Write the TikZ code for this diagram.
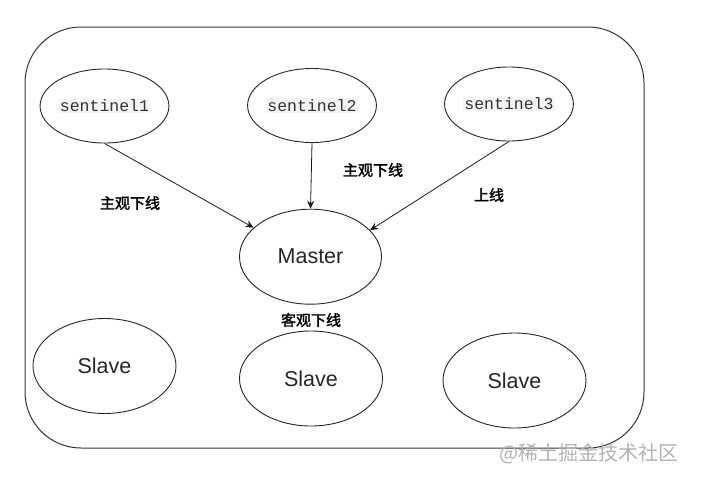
\documentclass[tikz,border=0pt]{standalone}
\usepackage{fontspec}
\setmainfont{Liberation Sans}
\newfontfamily\codefont{Liberation Mono}
\newfontfamily\cjk[AutoFakeBold=2]{Noto Sans CJK SC}
\usetikzlibrary{shapes.geometric,arrows.meta}
\definecolor{codegray}{HTML}{333333}
\definecolor{codebg}{HTML}{F4F4F4}
\newcommand{\sname}[1]{{\setlength{\fboxsep}{1pt}\colorbox{codebg}{\codefont\fontsize{16.5}{18}\selectfont\color{codegray}#1}}}
\newcommand{\state}[1]{\cjk\bfseries\fontsize{15}{17}\selectfont #1}

\begin{document}
\begin{tikzpicture}[x=1pt,y=-1pt,
  sentinel/.style={ellipse,draw=black!85,line width=0.9pt,minimum width=109pt,minimum height=74pt,inner sep=0pt},
  redis/.style={ellipse,draw=black!85,line width=0.9pt,minimum width=143pt,minimum height=95pt,inner sep=0pt,
    font=\fontsize{21.5}{24}\selectfont,text=black!85},
  vote/.style={-{Stealth[length=8pt,width=7pt]},line width=0.8pt,black!90}]
\useasboundingbox (0,0) rectangle (704,477);
% the frame round the whole sentinel group
\draw[black!80,line width=1pt,rounded corners=56pt] (25,27) rectangle (644,448);
% three sentinels
\node[sentinel] (s1) at (104.5,106) {\sname{sentinel1}};
\node[sentinel] (s2) at (312,105.5) {\sname{sentinel2}};
\node[sentinel] (s3) at (509,104) {\sname{sentinel3}};
% master and its slaves
\node[redis,minimum width=142pt] (master) at (310.5,256.7) {Master};
\node[redis] (slave1) at (104.5,366) {Slave};
\node[redis] (slave2) at (311,378.5) {Slave};
\node[redis] (slave3) at (514.5,380.5) {Slave};
% what each sentinel reports
\draw[vote] (s1.south) -- (master.153);
\draw[vote] (s2.south) -- (master.north);
\draw[vote] (s3.south) -- (master.24);
\node (l1) at (130,203) {\state{主观下线}};
\node (l2) at (373,170) {\state{主观下线}};
\node (l3) at (489,195) {\state{上线}};
\node (l4) at (311,320) {\state{客观下线}};
\node[text=black!30,font=\cjk\fontsize{20}{22}\selectfont] (mark) at (589,454) {@稀土掘金技术社区};
\end{tikzpicture}
\end{document}
